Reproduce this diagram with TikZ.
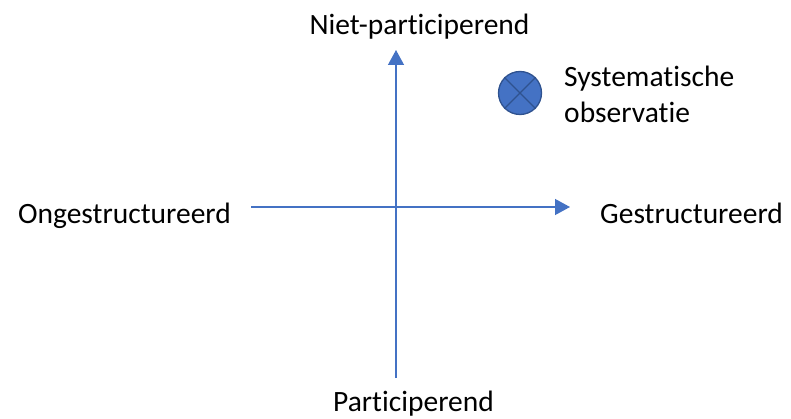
\documentclass[tikz,border=0pt]{standalone}
\usepackage{fontspec}
\setmainfont[Ligatures={NoCommon,NoContextual,NoRequired},RawFeature={-liga;-calt;-dlig;-clig}]{Carlito}
\usetikzlibrary{arrows.meta}
\definecolor{axisblue}{HTML}{4472C4}
\definecolor{darkblue}{HTML}{2F528F}
\begin{document}
\begin{tikzpicture}[x=1pt,y=-1pt,
  lbl/.style={font=\fontsize{29.5}{36}\selectfont, inner sep=0pt},
  axis/.style={draw=axisblue, line width=1.3pt, -{Triangle[length=15pt,width=16pt]}}]
\useasboundingbox (0,0) rectangle (791,419);
\coordinate (vbot) at (396,378);
\coordinate (vtop) at (396,50);
\coordinate (hl) at (251,207);
\coordinate (hr) at (570,207);
\draw[axis] (vbot) -- (vtop);
\draw[axis] (hl) -- (hr);
\node[lbl, anchor=base] (top) at (419.5,35) {Niet-participerend};
\node[lbl, anchor=base] (bot) at (413.5,411.5) {Participerend};
\node[lbl, anchor=base east] (left) at (231,224) {Ongestructureerd};
\node[lbl, anchor=base west] (right) at (600,224) {Gestructureerd};
\node[circle, fill=axisblue, draw=darkblue, line width=1.3pt, minimum size=43pt, inner sep=0pt] (obs) at (520,93) {};
\draw[darkblue, line width=1.3pt] (obs.north east) -- (obs.south west) (obs.north west) -- (obs.south east);
\node[lbl, anchor=base west] (obstxt1) at (564,87) {Systematische};
\node[lbl, anchor=base west] (obstxt2) at (564,123) {observatie};
\end{tikzpicture}
\end{document}
